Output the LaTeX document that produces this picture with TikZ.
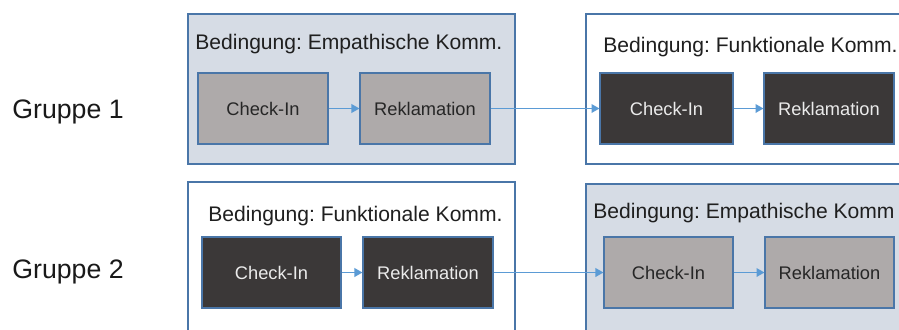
\documentclass[tikz,border=0pt]{standalone}
\usepackage{fontspec}
\setmainfont{Liberation Sans}
\frenchspacing
\usetikzlibrary{arrows.meta}
\definecolor{frameblue}{HTML}{4A76A8}
\definecolor{paneblue}{HTML}{D6DCE5}
\definecolor{stagegray}{HTML}{AEAAAA}
\definecolor{stagedark}{HTML}{3B3838}
\definecolor{flowblue}{HTML}{5B9BD5}
\tikzset{
  pane/.style={draw=frameblue,line width=0.6pt},
  panefill/.style={pane,fill=paneblue},
  stage/.style={draw=frameblue,line width=0.7pt,minimum height=1.42cm,inner sep=0pt,font=\fontsize{10.4}{12}\selectfont},
  stagelight/.style={stage,fill=stagegray,text=black!85},
  stagedarkbox/.style={stage,fill=stagedark,text=white!92!black},
  cond/.style={anchor=base west,inner sep=0pt,text=black!88,font=\fontsize{12}{14}\selectfont},
  grp/.style={anchor=base west,inner sep=0pt,text=black!90,font=\fontsize{15.2}{18}\selectfont},
  flow/.style={draw=flowblue,line width=0.6pt,-{Triangle[length=4.5pt,width=5pt]}}
}
\begin{document}
\begin{tikzpicture}[x=0.02cm,y=-0.02cm]
\clip (0,0) rectangle (899,329);
\fill[white] (0,0) rectangle (899,329);
% Gruppe 1
\draw[panefill] (188,14) rectangle (515,164);
\draw[pane] (586,14) rectangle (940,164);
\node[cond] (t1a) at (195,49) {Bedingung: Empathische Komm.};
\node[cond] (t1b) at (603,52) {Bedingung: Funktionale Komm.};
\node[stagelight,minimum width=2.6cm] (c1a) at (263,108.5) {Check-In};
\node[stagelight,minimum width=2.6cm] (r1a) at (425,108.5) {Reklamation};
\node[stagedarkbox,minimum width=2.66cm] (c1b) at (666.5,108.5) {Check-In};
\node[stagedarkbox,minimum width=2.6cm] (r1b) at (829,108.5) {Reklamation};
\draw[flow] (c1a) -- (r1a);
\draw[flow] (r1a) -- (c1b);
\draw[flow] (c1b) -- (r1b);
\node[grp] (g1) at (12,118) {Gruppe 1};
% Gruppe 2
\draw[pane] (188,182) rectangle (515,360);
\draw[panefill] (586,184) rectangle (940,360);
\node[cond] (t2a) at (208,221) {Bedingung: Funktionale Komm.};
\node[cond] (t2b) at (593,218) {Bedingung: Empathische Komm};
\node[stagedarkbox,minimum width=2.78cm] (c2a) at (271.5,272.5) {Check-In};
\node[stagedarkbox,minimum width=2.6cm] (r2a) at (428,272.5) {Reklamation};
\node[stagelight,minimum width=2.58cm] (c2b) at (668.5,272.5) {Check-In};
\node[stagelight,minimum width=2.58cm] (r2b) at (829.5,272.5) {Reklamation};
\draw[flow] (c2a) -- (r2a);
\draw[flow] (r2a) -- (c2b);
\draw[flow] (c2b) -- (r2b);
\node[grp] (g2) at (12,278) {Gruppe 2};
\end{tikzpicture}
\end{document}
